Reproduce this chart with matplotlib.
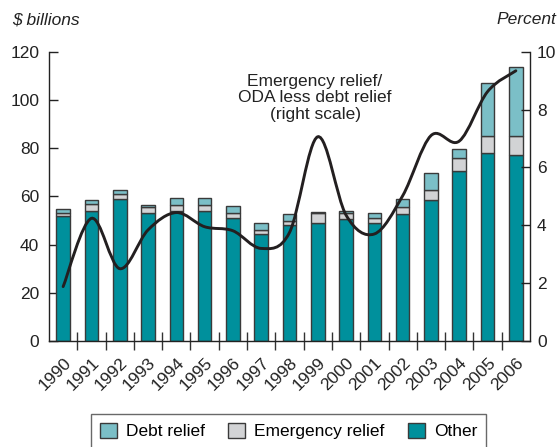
import numpy as np
import matplotlib
matplotlib.use("Agg")
import matplotlib.pyplot as plt
from matplotlib.path import Path
from matplotlib.patches import PathPatch, Patch

plt.rcParams['font.family'] = ['Liberation Sans', 'DejaVu Sans']

years = ['1990', '1991', '1992', '1993', '1994', '1995', '1996', '1997', '1998',
         '1999', '2000', '2001', '2002', '2003', '2004', '2005', '2006']
other = [52.0, 54.1, 59.1, 53.2, 54.0, 53.9, 51.1, 44.4, 48.0,
         49.1, 50.7, 49.1, 52.6, 58.6, 70.6, 77.8, 77.1]
emergency = [1.1, 2.6, 1.8, 2.2, 2.6, 2.6, 2.2, 1.7, 1.8,
             3.8, 2.3, 2.0, 2.9, 4.2, 5.3, 7.2, 7.8]
debt = [1.6, 1.8, 1.7, 1.1, 2.6, 2.7, 2.6, 2.8, 2.9,
        0.8, 1.0, 1.8, 3.2, 6.7, 3.8, 22.1, 28.8]
share = [1.88, 4.24, 2.50, 3.84, 4.44, 3.95, 3.81, 3.20, 3.75,
         7.06, 4.35, 3.70, 5.02, 7.10, 6.91, 8.62, 9.34]

c_other = '#00909c'
c_emerg = '#d2d3d5'
c_debt = '#7bbfc7'
c_edge = '#3a3a3a'
fs = 12.5

fig = plt.figure(figsize=(5.6, 4.47), dpi=100)
ax = fig.add_axes([49/560, 1-341/447, (530-49)/560, (341-51.7)/447])
x = np.arange(len(years))
bw = 0.48
ax.bar(x, other, bw, color=c_other, edgecolor=c_edge, linewidth=1.0, zorder=2)
ax.bar(x, emergency, bw, bottom=other, color=c_emerg, edgecolor=c_edge, linewidth=1.0, zorder=2)
bot2 = np.array(other) + np.array(emergency)
ax.bar(x, debt, bw, bottom=bot2, color=c_debt, edgecolor=c_edge, linewidth=1.0, zorder=2)

ax.set_xlim(-0.5, len(years) - 0.5)
ax.set_ylim(0, 120)
ax.set_yticks(np.arange(0, 121, 20))
ax.tick_params(axis='y', direction='in', length=6.5, width=1.0, pad=7,
               labelsize=fs, colors='#222222')
ax.set_xticks(x)
ax.set_xticklabels(years, rotation=45, ha='right', rotation_mode='anchor',
                   fontsize=fs, color='#222222')
ax.tick_params(axis='x', which='major', length=0, pad=10)
ax.set_xticks(np.arange(0.5, len(years) - 1, 1.0), minor=True)
ax.tick_params(axis='x', which='minor', direction='inout', length=12.5, width=1.0,
               color='#333333')
ax.spines['top'].set_visible(False)
ax.spines['right'].set_visible(False)
for s in ['left', 'bottom']:
    ax.spines[s].set_linewidth(1.0)
    ax.spines[s].set_color('#222222')

ax2 = ax.twinx()
ax2.set_ylim(0, 10)
ax2.set_yticks(np.arange(0, 11, 2))
ax2.tick_params(axis='y', direction='in', length=6.5, width=1.0, pad=5,
                labelsize=fs, colors='#222222')
for s in ['top', 'left', 'bottom']:
    ax2.spines[s].set_visible(False)
ax2.spines['right'].set_linewidth(1.0)
ax2.spines['right'].set_color('#222222')

# smooth curve (Catmull-Rom as cubic Bezier segments)
px = x.astype(float)
py = np.array(share, dtype=float)
verts = [(px[0], py[0])]
codes = [Path.MOVETO]
n = len(px)
for i in range(n - 1):
    p0 = (px[i-1], py[i-1]) if i > 0 else (px[i], py[i])
    p1 = (px[i], py[i])
    p2 = (px[i+1], py[i+1])
    p3 = (px[i+2], py[i+2]) if i + 2 < n else (px[i+1], py[i+1])
    c1 = (p1[0] + (p2[0] - p0[0]) / 6, p1[1] + (p2[1] - p0[1]) / 6)
    c2 = (p2[0] - (p3[0] - p1[0]) / 6, p2[1] - (p3[1] - p1[1]) / 6)
    verts += [c1, c2, p2]
    codes += [Path.CURVE4] * 3
ax2.add_patch(PathPatch(Path(verts, codes), facecolor='none', edgecolor='#231f20',
                        linewidth=2.1, capstyle='round', zorder=5))

fig.text(12/560, 1-20/447, '$ billions', fontsize=fs, style='italic', color='#222222',
         ha='left', va='center')
fig.text(556/560, 1-20/447, 'Percent', fontsize=fs, style='italic', color='#222222',
         ha='right', va='center')
fig.text(315/560, 1-98/447, 'Emergency relief/\nODA less debt relief\n(right scale)',
         fontsize=fs, color='#222222', ha='center', va='center', linespacing=1.15)

handles = [Patch(facecolor=c_debt, edgecolor=c_edge, label='Debt relief'),
           Patch(facecolor=c_emerg, edgecolor=c_edge, label='Emergency relief'),
           Patch(facecolor=c_other, edgecolor=c_edge, label='Other')]
leg = fig.legend(handles=handles, loc='upper center', bbox_to_anchor=(288.5/560, 1-414/447),
                 ncol=3, fontsize=fs, frameon=True, fancybox=False,
                 handlelength=1.0, handleheight=1.0, handletextpad=0.5,
                 columnspacing=1.35, borderpad=0.5, borderaxespad=0.0,
                 edgecolor='#444444')
leg.get_frame().set_linewidth(1.0)

fig.savefig('out.png', dpi=100)
